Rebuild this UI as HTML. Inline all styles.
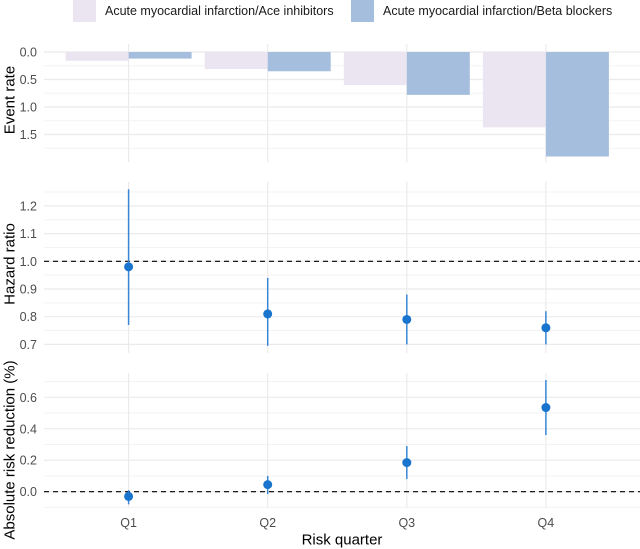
<!DOCTYPE html>
<html><head><meta charset="utf-8"><style>
body{margin:0;background:#fff;}
svg{display:block;font-family:"Liberation Sans",Arial,sans-serif;}
</style></head><body>
<svg id="chart" width="640" height="549" xmlns="http://www.w3.org/2000/svg"></svg>
<script>
const categories=["Q1","Q2","Q3","Q4"];
const aceRate=[0.16,0.31,0.6,1.37];
const betaRate=[0.12,0.35,0.78,1.9];
const hr=[0.98,0.81,0.79,0.76];
const hrLow=[0.77,0.695,0.70,0.70];
const hrHigh=[1.26,0.94,0.88,0.82];
const arr=[-0.03,0.045,0.185,0.535];
const arrLow=[-0.08,-0.015,0.08,0.36];
const arrHigh=[0.01,0.1,0.29,0.71];
const rateTicks=[0,0.5,1.0,1.5];
const hrTicks=[0.7,0.8,0.9,1.0,1.1,1.2];
const arrTicks=[0,0.2,0.4,0.6];

const NS="http://www.w3.org/2000/svg";
const svg=document.getElementById('chart');
function el(tag,attrs,parent){const e=document.createElementNS(NS,tag);for(const k in attrs)e.setAttribute(k,attrs[k]);(parent||svg).appendChild(e);return e;}
const X0=44,X1=640;
const xPos=i=>128.6+i*139.1;
const yRate=v=>52+v*55;
const yHR=v=>261.3+(1.0-v)*277;
const yARR=v=>491.7-v*157.3;
const major="#ebebeb",minor="#f3f3f3",tickCol="#4d4d4d";

function panel(name,top,bottom,yf,ticks,minors,fmt){
  const g=el('g',{});
  
  
  minors.forEach(v=>{el('line',{x1:X0,x2:X1,y1:yf(v),y2:yf(v),stroke:minor,'stroke-width':1},g);});
  ticks.forEach(v=>{
    el('line',{x1:X0,x2:X1,y1:yf(v),y2:yf(v),stroke:major,'stroke-width':1.2},g);
    const t=el('text',{x:37,y:yf(v)+4.5,'text-anchor':'end','font-size':12.5,fill:tickCol},g);
    t.textContent=fmt(v);
    
    
  });
  categories.forEach((c,i)=>{el('line',{x1:xPos(i),x2:xPos(i),y1:top,y2:bottom,stroke:major,'stroke-width':1.2},g);});
  return g;
}
const g1=panel('event-rate',44,162,yRate,rateTicks,[0.25,0.75,1.25,1.75],v=>v.toFixed(1));
const bw=63;
categories.forEach((c,i)=>{
  const a=el('rect',{x:xPos(i)-bw,y:yRate(0),width:bw,height:yRate(aceRate[i])-yRate(0),fill:"#ebe5f1"},g1);
  
  
  const b=el('rect',{x:xPos(i),y:yRate(0),width:bw,height:yRate(betaRate[i])-yRate(0),fill:"#a6bedd"},g1);
  
  
});
const g2=panel('hazard-ratio',182,353,yHR,hrTicks,[0.75,0.85,0.95,1.05,1.15,1.25],v=>v.toFixed(1));
el('line',{x1:X0,x2:X1,y1:yHR(1),y2:yHR(1),stroke:"#000",'stroke-width':1.2,'stroke-dasharray':'5,4'},g2);
categories.forEach((c,i)=>{
  const l=el('line',{x1:xPos(i),x2:xPos(i),y1:yHR(hrLow[i]),y2:yHR(hrHigh[i]),stroke:"#3a86d6",'stroke-width':1.5},g2);
  
  
  const p=el('circle',{cx:xPos(i),cy:yHR(hr[i]),r:4.5,fill:"#1874CD"},g2);
  
  
});
const g3=panel('absolute-risk',373,508,yARR,arrTicks,[-0.1,0.1,0.3,0.5,0.7],v=>v.toFixed(1));
el('line',{x1:X0,x2:X1,y1:yARR(0),y2:yARR(0),stroke:"#000",'stroke-width':1.2,'stroke-dasharray':'5,4'},g3);
categories.forEach((c,i)=>{
  const l=el('line',{x1:xPos(i),x2:xPos(i),y1:yARR(arrLow[i]),y2:yARR(arrHigh[i]),stroke:"#3a86d6",'stroke-width':1.5},g3);
  
  
  const p=el('circle',{cx:xPos(i),cy:yARR(arr[i]),r:4.5,fill:"#1874CD"},g3);
  
  
  const t=el('text',{x:xPos(i),y:527,'text-anchor':'middle','font-size':12.5,fill:tickCol});
  t.textContent=c;
  
  
});
</script>
<div style="position:absolute;left:0;top:0;width:640px;height:549px;pointer-events:none;font-family:'Liberation Sans',Arial,sans-serif;">
  <div>
    <div style="position:absolute;left:73px;top:0;width:23px;height:22px;background:#ebe5f1;"></div>
    <div style="position:absolute;left:105px;top:4px;font-size:12.5px;color:#1a1a1a;white-space:nowrap;">Acute myocardial infarction/Ace inhibitors</div>
    <div style="position:absolute;left:351px;top:0;width:23px;height:22px;background:#a6bedd;"></div>
    <div style="position:absolute;left:383px;top:4px;font-size:12.5px;color:#1a1a1a;white-space:nowrap;">Acute myocardial infarction/Beta blockers</div>
  </div>
  <div style="position:absolute;left:10px;top:100px;transform:translate(-50%,-50%) rotate(-90deg);font-size:15px;white-space:nowrap;color:#000;">Event rate</div>
  <div style="position:absolute;left:10px;top:264px;transform:translate(-50%,-50%) rotate(-90deg);font-size:15px;white-space:nowrap;color:#000;">Hazard ratio</div>
  <div style="position:absolute;left:10px;top:450px;transform:translate(-50%,-50%) rotate(-90deg);font-size:15px;white-space:nowrap;color:#000;">Absolute risk reduction (%)</div>
  <div style="position:absolute;left:342px;top:540px;transform:translate(-50%,-50%);font-size:15px;white-space:nowrap;color:#000;">Risk quarter</div>
</div>
</body></html>
